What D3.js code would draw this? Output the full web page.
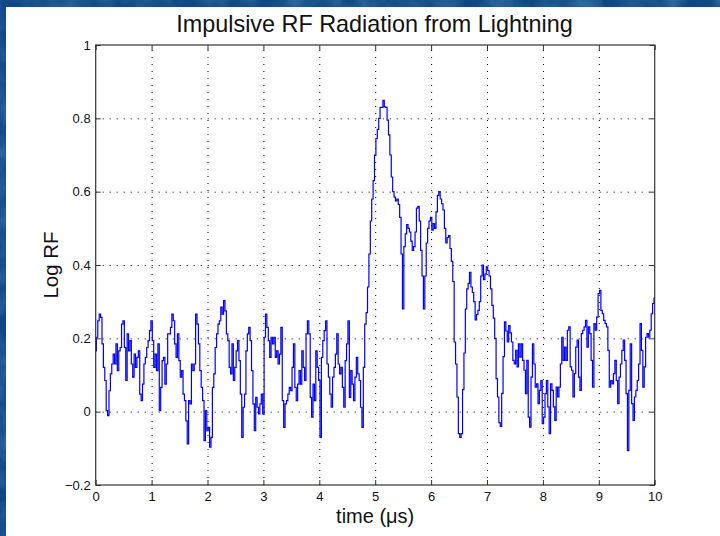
<!DOCTYPE html>
<html lang="en">
<head>
<meta charset="utf-8">
<title>Impulsive RF Radiation from Lightning</title>
<script src="https://cdn.jsdelivr.net/npm/d3@7"></script>
<style>
  body { margin: 0; background: #124b8b; }
  svg { display: block; }
  .grid line { stroke: #000; stroke-width: 1; stroke-dasharray: 1,6; }
  .grid path { display: none; }
  .axis path { display: none; }
  .axis line { stroke: #333; }
  .axis text { font-family: "Liberation Sans", Arial, sans-serif; font-size: 13px; fill: #111; }
  .label { font-family: "Liberation Sans", Arial, sans-serif; fill: #111; }
  .rf { fill: none; stroke: #0000ff; stroke-width: 1.2px; }
</style>
</head>
<body>
<svg id="chart" width="720" height="536"></svg>
<script>
// samples every 0.025 us
var dt = 0.025;

// 0 .. 2.475 us
var rfA = [0.166, 0.203, 0.248, 0.266, 0.257, 0.185, 0.121, 0.085, 0.003, -0.011,
           0.057, 0.103, 0.130, 0.157, 0.130, 0.185, 0.112, 0.166, 0.175, 0.239,
           0.248, 0.175, 0.085, 0.212, 0.166, 0.194, 0.130, 0.094, 0.157, 0.121,
           0.148, 0.166, 0.048, 0.030, 0.075, 0.130, 0.148, 0.175, 0.194, 0.221,
           0.248, 0.194, 0.121, 0.157, 0.112, 0.185, 0.003, 0.066, 0.139, 0.148,
           0.075, 0.130, 0.212, 0.212, 0.230, 0.266, 0.248, 0.185, 0.148, 0.212,
           0.139, 0.094, 0.112, 0.048, 0.030, -0.025, -0.088, 0.030, 0.021, 0.130,
           0.112, 0.130, 0.266, 0.239, 0.185, 0.112, 0.066, 0.030, -0.079, 0.003,
           -0.052, -0.043, -0.097, -0.070, 0.066, 0.103, 0.175, 0.212, 0.239, 0.248,
           0.285, 0.266, 0.303, 0.275, 0.212, 0.194, 0.121, 0.103, 0.185, 0.085];

// 2.5 .. 4.975 us
var rfB = [0.121, 0.166, 0.194, 0.139, 0.048, -0.070, 0.012, 0.048, 0.166, 0.212,
           0.230, 0.194, 0.112, 0.021, -0.052, 0.039, 0.012, -0.006, 0.021, 0.048,
           -0.006, 0.203, 0.266, 0.230, 0.194, 0.148, 0.203, 0.185, 0.203, 0.148,
           0.166, 0.130, 0.157, 0.230, 0.030, -0.043, 0.021, 0.030, 0.048, 0.066,
           0.057, 0.121, 0.185, 0.066, 0.030, 0.075, 0.112, 0.075, 0.166, 0.121,
           0.085, 0.212, 0.248, 0.212, 0.039, -0.015, 0.075, 0.030, 0.166, 0.121,
           0.085, -0.070, 0.148, 0.194, 0.221, 0.248, 0.130, 0.094, 0.048, 0.012,
           0.094, 0.121, 0.157, 0.212, 0.130, 0.103, 0.121, 0.066, 0.012, 0.139,
           0.185, 0.248, 0.039, 0.112, 0.075, 0.030, 0.094, 0.148, 0.103, 0.085,
           0.012, -0.043, 0.121, 0.239, 0.270, 0.340, 0.430, 0.520, 0.580, 0.630];

// 5 .. 7.475 us
var rfC = [0.700, 0.745, 0.770, 0.800, 0.830, 0.830, 0.849, 0.831, 0.830, 0.795,
           0.755, 0.700, 0.640, 0.600, 0.585, 0.575, 0.580, 0.565, 0.530, 0.430,
           0.280, 0.450, 0.485, 0.510, 0.500, 0.490, 0.465, 0.440, 0.450, 0.490,
           0.555, 0.560, 0.520, 0.440, 0.370, 0.280, 0.370, 0.460, 0.500, 0.520,
           0.530, 0.495, 0.513, 0.500, 0.545, 0.590, 0.600, 0.580, 0.567, 0.550,
           0.500, 0.460, 0.475, 0.480, 0.445, 0.410, 0.355, 0.190, 0.130, 0.040,
           -0.060, -0.070, -0.060, 0.060, 0.160, 0.280, 0.335, 0.350, 0.380, 0.340,
           0.325, 0.300, 0.250, 0.265, 0.276, 0.300, 0.370, 0.400, 0.360, 0.375,
           0.395, 0.385, 0.370, 0.335, 0.290, 0.255, 0.200, 0.090, 0.040, -0.030,
           -0.040, 0.050, 0.150, 0.245, 0.220, 0.190, 0.235, 0.215, 0.190, 0.140];

// 7.5 .. 10 us
var rfD = [0.130, 0.167, 0.122, 0.185, 0.149, 0.185, 0.140, 0.113, 0.049, 0.140,
           -0.015, -0.042, 0.094, 0.185, 0.130, 0.067, 0.076, 0.022, 0.058, 0.085,
           -0.033, -0.015, 0.049, 0.085, 0.013, -0.060, 0.076, 0.058, 0.013, -0.024,
           0.067, 0.040, 0.067, 0.130, 0.203, 0.140, 0.176, 0.140, 0.222, 0.231,
           0.122, 0.113, 0.040, 0.104, 0.176, 0.195, 0.094, 0.058, 0.213, 0.222,
           0.231, 0.249, 0.176, 0.231, 0.213, 0.140, 0.067, 0.240, 0.222, 0.258,
           0.322, 0.331, 0.276, 0.267, 0.249, 0.240, 0.231, 0.167, 0.067, 0.085,
           0.076, 0.104, 0.140, 0.085, 0.022, 0.094, 0.130, 0.167, 0.195, 0.140,
           0.049, -0.106, 0.058, 0.185, 0.022, -0.024, 0.040, 0.058, 0.085, 0.130,
           0.240, 0.167, 0.067, 0.122, 0.203, 0.213, 0.203, 0.222, 0.267, 0.295,
           0.310];

var xTicks = [0, 1, 2, 3, 4, 5, 6, 7, 8, 9, 10];
var yTicks = [-0.2, 0, 0.2, 0.4, 0.6, 0.8, 1];

var titleText = "Impulsive RF Radiation from Lightning";
var xLabel = "time (\u03bcs)";
var yLabel = "Log RF";

var margin = {top: 45, right: 65.3, bottom: 51, left: 95.7},
    width = 720 - margin.left - margin.right,
    height = 536 - margin.top - margin.bottom;

var data = rfA.concat(rfB, rfC, rfD).map(function(v, i) {
    return {t: i * dt, v: v};
});

var svg = d3.select("#chart");

// slide background with a bit of texture
var defs = svg.append("defs");
var f = defs.append("filter").attr("id", "grain")
    .attr("x", 0).attr("y", 0).attr("width", "100%").attr("height", "100%");
f.append("feTurbulence").attr("type", "fractalNoise")
    .attr("baseFrequency", 0.035).attr("numOctaves", 3).attr("seed", 4);
f.append("feColorMatrix").attr("type", "matrix")
    .attr("values", "0 0 0 0 0.12  0 0 0 0 0.36  0 0 0 0 0.62  0 0 0 1.1 -0.35");
svg.append("rect").attr("width", 720).attr("height", 536).attr("fill", "#0f4886");
svg.append("rect").attr("width", 720).attr("height", 536)
    .attr("filter", "url(#grain)").attr("opacity", 0.7);

// white figure area
svg.append("rect").attr("x", 6).attr("y", 7)
    .attr("width", 714).attr("height", 529).attr("fill", "#fff");

var g = svg.append("g")
    .attr("transform", "translate(" + margin.left + "," + margin.top + ")");

var x = d3.scaleLinear().domain([0, 10]).range([0, width]);
var y = d3.scaleLinear().domain([-0.2, 1]).range([height, 0]);
var fmt = d3.format("~g");

// dotted grid
g.append("g").attr("class", "grid")
    .attr("transform", "translate(0," + height + ")")
    .call(d3.axisBottom(x).tickValues(xTicks.slice(1, -1)).tickSize(-height).tickFormat(""));
g.append("g").attr("class", "grid")
    .call(d3.axisLeft(y).tickValues(yTicks.slice(1, -1)).tickSize(-width).tickFormat(""));

// signal (sampled trace, drawn as steps like the scope output)
var line = d3.line()
    .curve(d3.curveStep)
    .x(function(d) { return x(d.t); })
    .y(function(d) { return y(d.v); });

g.append("path")
    .datum(data)
    .attr("class", "rf")
    .attr("d", line);

// ticks pointing inward on all four sides
g.append("g").attr("class", "axis")
    .attr("transform", "translate(0," + height + ")")
    .call(d3.axisBottom(x).tickValues(xTicks).tickFormat(fmt)
        .tickSizeInner(-5).tickSizeOuter(0).tickPadding(7));
g.append("g").attr("class", "axis")
    .call(d3.axisLeft(y).tickValues(yTicks).tickFormat(fmt)
        .tickSizeInner(-5).tickSizeOuter(0).tickPadding(5));
g.append("g").attr("class", "axis")
    .call(d3.axisTop(x).tickValues(xTicks).tickFormat("")
        .tickSizeInner(-5).tickSizeOuter(0));
g.append("g").attr("class", "axis")
    .attr("transform", "translate(" + width + ",0)")
    .call(d3.axisRight(y).tickValues(yTicks).tickFormat("")
        .tickSizeInner(-5).tickSizeOuter(0));

g.append("rect")
    .attr("width", width).attr("height", height)
    .attr("fill", "none").attr("stroke", "#333").attr("stroke-width", 1.2);

// texts
svg.append("text").attr("class", "label")
    .attr("x", 374.5).attr("y", 31.5)
    .attr("text-anchor", "middle")
    .style("font-size", "23.4px")
    .text(titleText);

svg.append("text").attr("class", "label")
    .attr("x", margin.left + width / 2).attr("y", 523)
    .attr("text-anchor", "middle")
    .style("font-size", "20px")
    .text(xLabel);

svg.append("text").attr("class", "label")
    .attr("transform", "translate(58," + (margin.top + height / 2) + ") rotate(-90)")
    .attr("text-anchor", "middle")
    .style("font-size", "20.5px")
    .text(yLabel);
</script>
</body>
</html>
